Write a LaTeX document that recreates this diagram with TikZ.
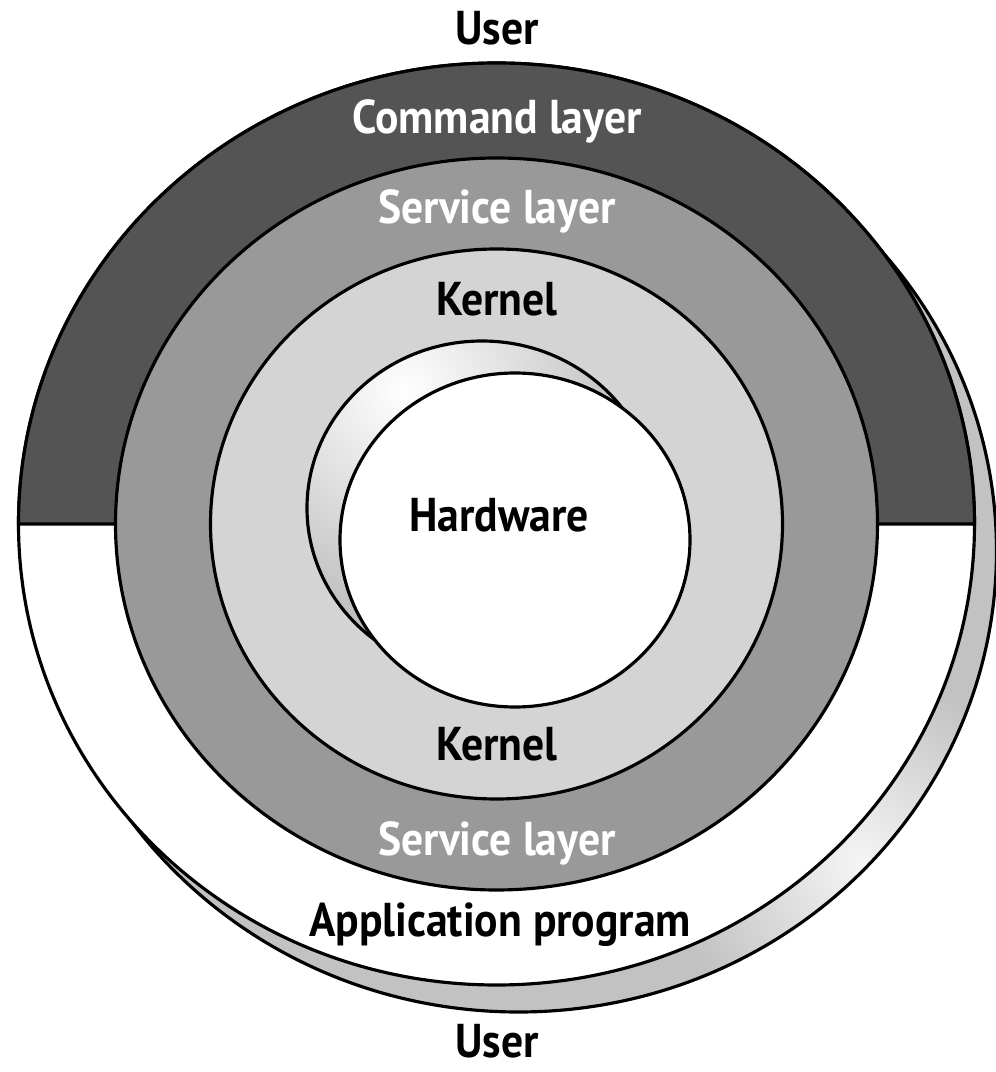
\documentclass[tikz,border=0pt]{standalone}
\usepackage{fontspec}
\setmainfont[FakeStretch=0.92]{PT Sans}

\definecolor{cmdgray}{gray}{0.33}
\definecolor{svcgray}{gray}{0.60}
\definecolor{krngray}{gray}{0.83}
\definecolor{shadowgray}{gray}{0.76}

\begin{document}
\begin{tikzpicture}[x=0.1mm, y=0.1mm,
    ring/.style={draw=black, line width=0.9pt},
    lbl/.style={anchor=base, inner sep=0pt, font=\fontsize{13.5}{15}\selectfont\bfseries},
    lblw/.style={lbl, text=white}]
      \useasboundingbox (0,0) rectangle (996,1072);
      % shadow behind the outer ring
      \begin{scope}
        \clip (518.5,521) ellipse [x radius=478, y radius=461];
        \fill[shadowgray] (0,0) rectangle (996,1072);
        \shade[inner color=gray!8, outer color=shadowgray] (860,210) circle (190);
      \end{scope}
      \draw[ring] (518.5,521) ellipse [x radius=478, y radius=461];
      % application program ring and command layer half
      \draw[ring, fill=white] (496.5,548) ellipse [x radius=478, y radius=461];
      \draw[ring, fill=cmdgray] (18.5,548) arc [start angle=180, end angle=0, x radius=478, y radius=461] -- cycle;
      % service layer and kernel
      \draw[ring, fill=svcgray] (496.5,548) ellipse [x radius=381, y radius=366];
      \draw[ring, fill=krngray] (496.5,548) ellipse [x radius=286, y radius=275];
      % hole with hardware
      \begin{scope}
        \clip (482,564) ellipse [x radius=175, y radius=167];
        \fill[gray!55] (300,380) rectangle (700,760);
        \shade[inner color=white, outer color=gray!55] (405,680) circle (250);
      \end{scope}
      \draw[ring] (482,564) ellipse [x radius=175, y radius=167];
      \draw[ring, fill=white] (515,532) ellipse [x radius=175, y radius=167];
      % labels
      \node[lbl]  (usertop)  at (497,1027) {User};
      \node[lblw] (command)  at (497,938)  {Command layer};
      \node[lblw] (servtop)  at (497,848)  {Service layer};
      \node[lbl]  (kerntop)  at (497,756)  {Kernel};
      \node[lbl]  (hardware) at (499,540)  {Hardware};
      \node[lbl]  (kernbot)  at (497,311)  {Kernel};
      \node[lblw] (servbot)  at (497,217)  {Service layer};
      \node[lbl]  (appprog)  at (500,135)  {Application program};
      \node[lbl]  (userbot)  at (497,14)   {User};
\end{tikzpicture}
\end{document}
